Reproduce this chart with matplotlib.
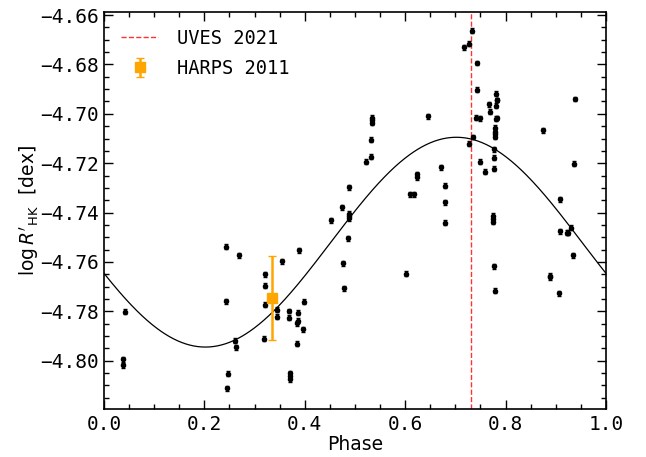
import numpy as np
import matplotlib.pyplot as plt
from matplotlib.ticker import MultipleLocator

# ============================
#  Data
# ============================
phase = [
    0.0385, 0.0385, 0.0425, 0.243, 0.2437, 0.268, 0.260, 0.262, 0.247, 0.2456,
    0.320, 0.320, 0.320, 0.319, 0.3546, 0.3446, 0.3446, 0.389, 0.398, 0.3685,
    0.368, 0.387, 0.386, 0.3845, 0.396, 0.384, 0.370, 0.370, 0.370, 0.452,
    0.4747, 0.4767, 0.4775, 0.4874, 0.4874, 0.4874, 0.4867, 0.489, 0.521, 0.531,
    0.532, 0.5345, 0.5345, 0.5345, 0.645, 0.6707, 0.6235, 0.6240, 0.680, 0.6096,
    0.6175, 0.7178, 0.7265, 0.733, 0.7437, 0.7437, 0.735, 0.728, 0.7417, 0.7484,
    0.749, 0.760, 0.7769, 0.7769, 0.7775, 0.778, 0.778, 0.778, 0.7785, 0.780,
    0.783, 0.769, 0.768, 0.780, 0.782, 0.7835, 0.7803, 0.8745, 0.9376, 0.937,
    0.908, 0.680, 0.680, 0.601, 0.7756, 0.7756, 0.7756, 0.7775, 0.779, 0.908,
    0.922, 0.925, 0.930, 0.9337, 0.889, 0.889, 0.906,
]
logrhk = [
    -4.7995, -4.8018, -4.7801, -4.7539, -4.7760, -4.7574, -4.7920, -4.7946, -4.8054, -4.8111,
    -4.7650, -4.7696, -4.7773, -4.7911, -4.7597, -4.7794, -4.7822, -4.7552, -4.7761, -4.7799,
    -4.7826, -4.7805, -4.7838, -4.7849, -4.7873, -4.7932, -4.8052, -4.8064, -4.8075, -4.7432,
    -4.7378, -4.7606, -4.7707, -4.7404, -4.7413, -4.7423, -4.7504, -4.7297, -4.7194, -4.7173,
    -4.7105, -4.7015, -4.7026, -4.7036, -4.7009, -4.7216, -4.7245, -4.7257, -4.7291, -4.7326,
    -4.7326, -4.6730, -4.6716, -4.6664, -4.6794, -4.6902, -4.7094, -4.7121, -4.7015, -4.7018,
    -4.7194, -4.7234, -4.7222, -4.7177, -4.7143, -4.7094, -4.7083, -4.7074, -4.7057, -4.7019,
    -4.7017, -4.6991, -4.6961, -4.6968, -4.6944, -4.6944, -4.6918, -4.7067, -4.6940, -4.7203,
    -4.7347, -4.7358, -4.7441, -4.7648, -4.7412, -4.7425, -4.7437, -4.7617, -4.7717, -4.7475,
    -4.7481, -4.7481, -4.7462, -4.7574, -4.7656, -4.7662, -4.7727,
]
logrhk_err = 0.001

harps_phase = [0.335]
harps_val = [-4.7747]
harps_err = [0.017]

uves_phase = 0.732

# sinusoidal model parameters
fit_mean = -4.752
fit_amp = 0.0425
fit_phase_max = 0.702

# ============================
#  Plot
# ============================
plt.rcParams["mathtext.fontset"] = "dejavusans"
fig = plt.figure(figsize=(6.46, 4.57), dpi=100)
ax = fig.add_axes([0.161, 0.105, 0.777, 0.869])

ph = np.linspace(0, 1, 500)
model = fit_mean + fit_amp * np.cos(2 * np.pi * (ph - fit_phase_max))
ax.plot(ph, model, color="black", lw=0.9, zorder=2)

ax.errorbar(phase, logrhk, yerr=logrhk_err, fmt="o", color="black",
            ms=3.0, capsize=1.5, elinewidth=1, zorder=3)

ax.axvline(uves_phase, color="red", ls="--", lw=1, alpha=0.8,
           label="UVES 2021", zorder=1)
ax.errorbar(harps_phase, harps_val, yerr=harps_err, fmt="s", color="orange",
            ms=7, capsize=3, elinewidth=1.8, label="HARPS 2011", zorder=4)

ax.set_xlim(0, 1)
ax.set_ylim(-4.8196, -4.6587)
ax.xaxis.set_major_locator(MultipleLocator(0.2))
ax.xaxis.set_minor_locator(MultipleLocator(0.05))
ax.yaxis.set_major_locator(MultipleLocator(0.02))
ax.yaxis.set_minor_locator(MultipleLocator(0.005))
ax.tick_params(which="both", direction="in", top=True, right=True, width=1)
ax.tick_params(which="major", length=6.5, pad=4)
ax.tick_params(which="minor", length=3.5)
for lab in ax.get_xticklabels() + ax.get_yticklabels():
    lab.set_family("DejaVu Sans Mono")
    lab.set_fontsize(14)
for sp in ax.spines.values():
    sp.set_linewidth(1.2)

ax.set_xlabel("Phase", fontsize=13.5, labelpad=1)
ax.set_ylabel(r"$\log R'_{\rm HK}$  [dex]", fontsize=13.5, labelpad=-1)

ax.legend(loc="upper left", frameon=False, handletextpad=1.0,
          labelspacing=0.6, prop={"family": "DejaVu Sans Mono", "size": 13.5})

fig.savefig("out.png", dpi=100)
